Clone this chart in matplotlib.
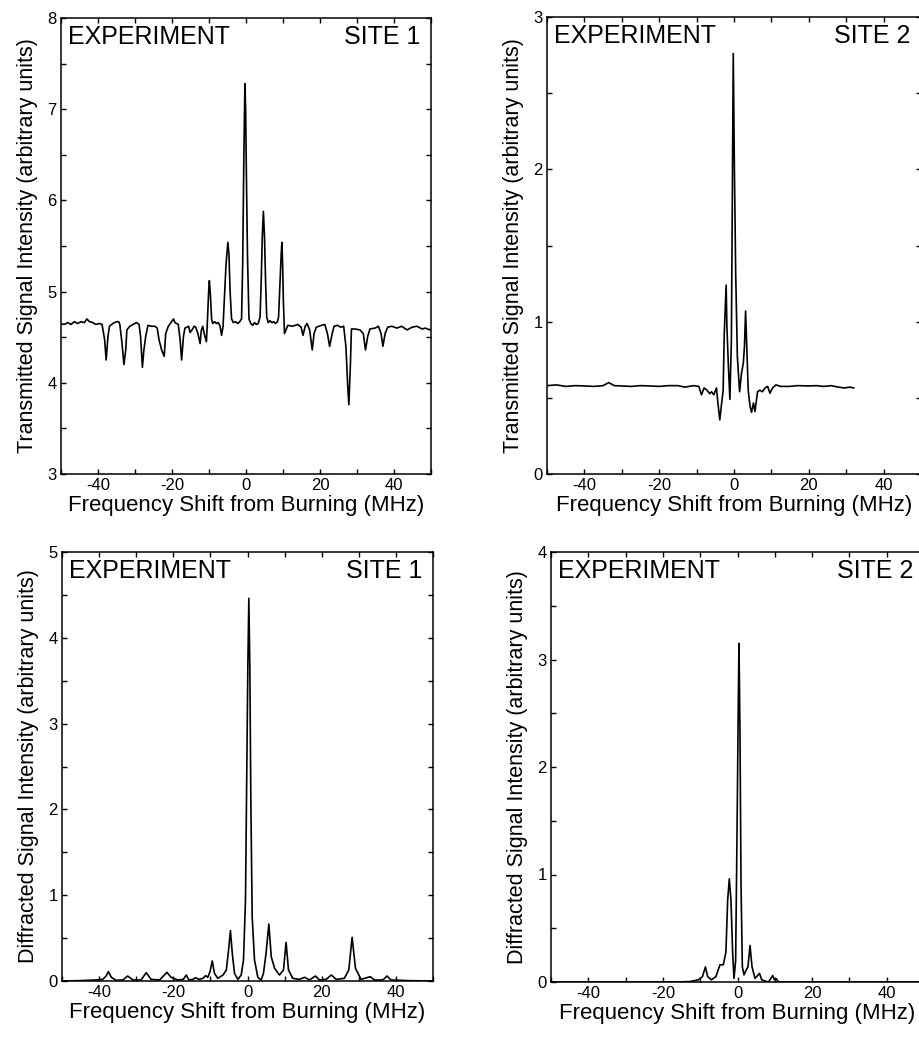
import matplotlib
matplotlib.use('Agg')
import matplotlib.pyplot as plt
from matplotlib.ticker import MultipleLocator, FixedLocator

plt.rcParams['font.family'] = ['Liberation Sans', 'DejaVu Sans']
plt.rcParams['axes.unicode_minus'] = False

# ---------------- data ----------------
# Panel 1: transmitted signal, site 1
p1_freq = [-50.2, -49.1, -48.2, -47.3, -46.4, -45.5, -44.6, -43.7, -43.0, -42.3,
           -41.4, -40.6, -39.6, -38.9, -38.2, -37.8, -37.3, -36.9, -36.0, -35.0,
           -34.4, -34.1, -33.5, -33.0, -32.5, -32.2, -31.4, -30.5, -29.6, -28.9,
           -28.5, -28.0, -27.6, -27.1, -26.5, -25.6, -24.6, -24.0, -23.5, -22.8,
           -22.1, -21.7, -21.0, -20.1, -19.6, -19.2, -18.3, -17.8, -17.4, -16.9,
           -16.5, -15.5, -15.1, -14.6, -14.0, -13.6, -13.0, -12.4, -12.1, -11.7,
           -11.3, -10.7, -10.4, -10.1, -9.9, -9.6, -9.3, -9.0, -8.5, -8.0,
           -7.5, -7.0, -6.6, -6.2, -5.8, -5.4, -4.9, -4.6, -4.3, -3.9,
           -3.4, -2.8, -2.2, -1.7, -1.2, -0.9, -0.6, -0.3, -0.1, 0.1,
           0.4, 0.8, 1.3, 1.8, 2.3, 2.8, 3.3, 3.8, 4.1, 4.4,
           4.7, 5.0, 5.3, 5.6, 6.0, 6.5, 7.0, 7.5, 8.0, 8.5,
           8.8, 9.2, 9.5, 9.7, 9.9, 10.1, 10.4, 11.3, 12.6, 14.0,
           14.9, 15.4, 16.0, 16.5, 17.2, 17.9, 18.4, 19.0, 20.4, 21.3,
           22.0, 22.6, 23.3, 23.8, 24.7, 25.6, 26.4, 27.0, 27.5, 27.8,
           28.2, 28.5, 29.4, 30.8, 31.7, 32.3, 32.9, 33.5, 34.9, 35.8,
           36.5, 37.0, 37.6, 38.3, 39.4, 40.8, 42.1, 43.5, 44.9, 46.2,
           47.6, 48.5, 49.6, 50.3]
p1_signal = [4.65, 4.64, 4.66, 4.64, 4.67, 4.65, 4.67, 4.66, 4.70, 4.67,
             4.66, 4.64, 4.65, 4.64, 4.47, 4.25, 4.51, 4.62, 4.65, 4.67,
             4.67, 4.64, 4.43, 4.20, 4.36, 4.58, 4.62, 4.64, 4.66, 4.64,
             4.51, 4.17, 4.36, 4.51, 4.63, 4.62, 4.62, 4.60, 4.47, 4.36,
             4.29, 4.54, 4.62, 4.67, 4.70, 4.66, 4.64, 4.47, 4.25, 4.51,
             4.60, 4.62, 4.55, 4.58, 4.62, 4.61, 4.54, 4.43, 4.57, 4.62,
             4.54, 4.45, 4.70, 5.00, 5.12, 4.95, 4.70, 4.65, 4.67, 4.65,
             4.66, 4.62, 4.52, 4.62, 4.95, 5.30, 5.54, 5.40, 5.00, 4.70,
             4.66, 4.67, 4.65, 4.67, 4.70, 5.30, 6.40, 7.28, 7.00, 6.30,
             5.40, 4.70, 4.65, 4.63, 4.66, 4.64, 4.65, 4.72, 5.10, 5.60,
             5.88, 5.60, 5.10, 4.72, 4.66, 4.68, 4.66, 4.67, 4.65, 4.67,
             4.72, 5.10, 5.40, 5.54, 5.30, 4.90, 4.54, 4.63, 4.62, 4.64,
             4.61, 4.52, 4.62, 4.65, 4.58, 4.36, 4.54, 4.61, 4.63, 4.64,
             4.54, 4.40, 4.54, 4.62, 4.63, 4.61, 4.62, 4.40, 3.96, 3.76,
             4.18, 4.59, 4.59, 4.58, 4.54, 4.36, 4.51, 4.59, 4.60, 4.62,
             4.54, 4.40, 4.54, 4.61, 4.62, 4.60, 4.62, 4.58, 4.61, 4.62,
             4.59, 4.60, 4.58, 4.60]

# Panel 2: transmitted signal, site 2
p2_freq = [-50.0, -47.5, -45.0, -42.5, -40.0, -37.5, -35.0, -33.5, -32.0, -30.0,
           -27.5, -25.0, -22.5, -20.0, -17.5, -15.0, -13.0, -12.1, -10.7, -9.4,
           -8.7, -8.0, -7.2, -6.5, -6.0, -5.4, -4.7, -4.3, -3.8, -3.3,
           -2.9, -2.6, -2.1, -1.9, -1.5, -1.1, -0.7, -0.46, -0.2, 0.1,
           0.45, 0.9, 1.5, 2.0, 2.5, 2.8, 3.1, 3.5, 3.8, 4.3,
           4.7, 5.2, 5.6, 6.3, 6.9, 7.6, 8.3, 9.0, 9.6, 10.3,
           11.2, 12.5, 13.9, 14.7, 17.0, 20.0, 22.0, 24.0, 26.0, 28.0,
           29.5, 31.0, 32.0]
p2_signal = [0.580, 0.585, 0.575, 0.580, 0.578, 0.575, 0.580, 0.600, 0.580, 0.578,
             0.575, 0.580, 0.578, 0.575, 0.580, 0.580, 0.570, 0.575, 0.580, 0.575,
             0.520, 0.565, 0.550, 0.527, 0.540, 0.520, 0.565, 0.466, 0.355, 0.466,
             0.550, 0.925, 1.240, 0.970, 0.710, 0.490, 0.880, 1.760, 2.760, 2.020,
             1.320, 0.770, 0.540, 0.660, 0.730, 0.840, 1.070, 0.770, 0.550, 0.443,
             0.405, 0.466, 0.410, 0.540, 0.550, 0.540, 0.565, 0.575, 0.530, 0.565,
             0.585, 0.575, 0.575, 0.575, 0.580, 0.578, 0.580, 0.575, 0.580, 0.570,
             0.565, 0.570, 0.565]

# Panel 3: diffracted signal, site 1
p3_freq = [-50.0, -45.3, -40.8, -39.0, -38.1, -37.5, -36.7, -35.4, -33.6, -32.3,
           -30.9, -28.7, -27.3, -26.0, -23.7, -22.4, -21.7, -20.6, -18.8, -17.3,
           -16.5, -15.8, -14.7, -14.0, -13.1, -12.0, -11.3, -10.7, -10.1, -9.5,
           -8.9, -8.0, -6.6, -5.7, -5.1, -4.6, -4.1, -3.5, -2.6, -1.7,
           -1.08, -0.54, -0.18, 0.09, 0.36, 0.63, 0.90, 1.26, 1.89, 2.78,
           3.68, 4.3, 5.0, 5.75, 6.4, 7.3, 8.6, 9.7, 10.4, 11.05,
           12.2, 14.0, 15.4, 16.7, 18.3, 19.4, 21.2, 22.6, 23.9, 26.1,
           27.3, 28.2, 29.1, 30.6, 33.1, 34.2, 36.5, 37.6, 38.7, 43.7,
           50.0]
p3_signal = [0.000, 0.004, 0.012, 0.019, 0.058, 0.109, 0.043, 0.008, 0.012, 0.058,
             0.012, 0.012, 0.097, 0.019, 0.012, 0.070, 0.101, 0.043, 0.012, 0.019,
             0.070, 0.012, 0.019, 0.039, 0.019, 0.031, 0.062, 0.043, 0.109, 0.233,
             0.089, 0.031, 0.070, 0.128, 0.361, 0.587, 0.322, 0.089, 0.019, 0.070,
             0.245, 0.944, 2.500, 3.660, 4.460, 3.660, 2.110, 0.750, 0.245, 0.043,
             0.012, 0.089, 0.322, 0.664, 0.283, 0.148, 0.070, 0.128, 0.451, 0.128,
             0.031, 0.019, 0.043, 0.012, 0.058, 0.012, 0.019, 0.070, 0.019, 0.031,
             0.128, 0.509, 0.148, 0.019, 0.050, 0.012, 0.012, 0.058, 0.012, 0.004,
             0.000]

# Panel 4: diffracted signal, site 2
p4_freq = [-50.0, -17.3, -12.8, -10.5, -9.4, -8.6, -8.0, -7.0, -5.8, -4.7,
           -3.8, -3.1, -2.64, -2.2, -1.75, -1.3, -0.94, -0.5, -0.13, 0.22,
           0.4, 0.67, 0.94, 1.3, 1.75, 2.3, 2.8, 3.36, 3.9, 4.7,
           5.9, 6.5, 8.3, 9.45, 9.9, 10.4, 11.0, 50.0]
p4_signal = [0.00, 0.00, 0.004, 0.02, 0.05, 0.14, 0.05, 0.02, 0.05, 0.16,
             0.16, 0.28, 0.76, 0.96, 0.76, 0.27, 0.033, 0.20, 1.38, 2.62,
             3.15, 2.31, 0.92, 0.14, 0.066, 0.11, 0.14, 0.34, 0.14, 0.033,
             0.08, 0.02, 0.00, 0.06, 0.02, 0.03, 0.00, 0.00]

x_ticks = [-40, -20, 0, 20, 40]
x_label = 'Frequency Shift from Burning (MHz)'
y_label_top = 'Transmitted Signal Intensity (arbitrary units)'
y_label_bottom = 'Diffracted Signal Intensity (arbitrary units)'

panels = [
    dict(rect=[61, 18, 431, 474], x=p1_freq, y=p1_signal, ylim=(3, 8),
         yticks=[3, 4, 5, 6, 7, 8], ylabel=y_label_top, site='SITE 1'),
    dict(rect=[547, 17, 921, 474], x=p2_freq, y=p2_signal, ylim=(0, 3),
         yticks=[0, 1, 2, 3], ylabel=y_label_top, site='SITE 2'),
    dict(rect=[62, 552, 433, 981], x=p3_freq, y=p3_signal, ylim=(0, 5),
         yticks=[0, 1, 2, 3, 4, 5], ylabel=y_label_bottom, site='SITE 1'),
    dict(rect=[551, 552, 924, 982], x=p4_freq, y=p4_signal, ylim=(0, 4),
         yticks=[0, 1, 2, 3, 4], ylabel=y_label_bottom, site='SITE 2'),
]

W, H = 919, 1054
fig = plt.figure(figsize=(W / 100, H / 100), dpi=100)

for p in panels:
    x0, y0, x1, y1 = p['rect']
    ax = fig.add_axes([x0 / W, (H - y1) / H, (x1 - x0) / W, (y1 - y0) / H])
    ax.plot(p['x'], p['y'], color='black', lw=1.2)
    ax.set_xlim(-50, 50)
    ax.set_ylim(*p['ylim'])
    ax.xaxis.set_major_locator(FixedLocator(x_ticks))
    ax.xaxis.set_minor_locator(MultipleLocator(10))
    ax.yaxis.set_major_locator(FixedLocator(p['yticks']))
    ax.yaxis.set_minor_locator(MultipleLocator(0.5))
    ax.tick_params(which='both', direction='in', top=True, right=True,
                   length=3.5, width=1.0)
    ax.tick_params(which='major', labelsize=12, pad=3)
    for s in ax.spines.values():
        s.set_linewidth(1.1)
    ax.set_xlabel(x_label, fontsize=16, labelpad=1)
    ax.set_ylabel(p['ylabel'], fontsize=15.5, labelpad=7)
    ax.annotate('EXPERIMENT', xy=(0, 1), xycoords='axes fraction',
                xytext=(5, -5), textcoords='offset points',
                ha='left', va='top', fontsize=18)
    ax.annotate(p['site'], xy=(1, 1), xycoords='axes fraction',
                xytext=(-8, -5), textcoords='offset points',
                ha='right', va='top', fontsize=18)

fig.savefig('out.png', dpi=100)
